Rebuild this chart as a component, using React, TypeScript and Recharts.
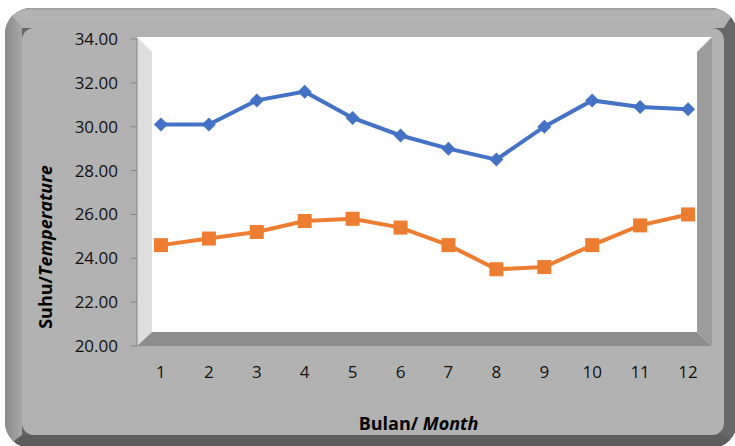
import React from 'react';
import { LineChart, Line, XAxis, YAxis } from 'recharts';

const months = ['1', '2', '3', '4', '5', '6', '7', '8', '9', '10', '11', '12'];
const suhuMaks = [30.1, 30.1, 31.2, 31.6, 30.4, 29.6, 29.0, 28.5, 30.0, 31.2, 30.9, 30.8];
const suhuMin = [24.6, 24.9, 25.2, 25.7, 25.8, 25.4, 24.6, 23.5, 23.6, 24.6, 25.5, 26.0];
const yTicks = [20, 22, 24, 26, 28, 30, 32, 34];
const bandTicks = [0, 1, 2, 3, 4, 5, 6, 7, 8, 9, 10, 11, 12];

const data = months.map((m, i) => ({ month: m, maks: suhuMaks[i], min: suhuMin[i], idx: i + 0.5 }));

const W = 735;
const H = 446;
const M = { top: 39, right: 23, bottom: 40, left: 0 };
const YW = 137;
const FONT = '"Open Sans", sans-serif';
const AXIS = '#858585';

const PL = M.left + YW;
const PR = W - M.right;
const PT = M.top;
const PB = H - M.bottom - 60;
const D = 15;

const Diamond = (p: any) => {
  const { cx, cy } = p;
  if (cx == null || cy == null) return null;
  const r = 7;
  return <polygon key={`d${p.index}`} points={`${cx},${cy - r} ${cx + r},${cy} ${cx},${cy + r} ${cx - r},${cy}`} fill="#4472C4" />;
};

const Square = (p: any) => {
  const { cx, cy } = p;
  if (cx == null || cy == null) return null;
  const s = 14;
  return <rect key={`s${p.index}`} x={cx - s / 2} y={cy - s / 2} width={s} height={s} fill="#ED7D31" />;
};

const YLabel = (props: any) => {
  const vb = props.viewBox || { x: 0, y: 0, width: 0, height: 0 };
  const x = vb.x + 52;
  const y = 247;
  return (
    <text transform={`translate(${x},${y}) rotate(-90)`} textAnchor="middle" fontFamily={FONT} fontSize={18} fontWeight="bold" fill="#000">
      <tspan>Suhu/</tspan>
      <tspan fontStyle="italic">Temperature</tspan>
    </text>
  );
};

const XLabel = (props: any) => {
  const vb = props.viewBox || { x: 0, y: 0, width: 0, height: 0 };
  return (
    <text x={vb.x + vb.width / 2 - 6} y={vb.y + 84} textAnchor="middle" fontFamily={FONT} fontSize={18} fontWeight="bold" fill="#000">
      <tspan>Bulan/ </tspan>
      <tspan fontStyle="italic">Month</tspan>
    </text>
  );
};

const Background = () => (
  <svg width={W} height={H} style={{ position: 'absolute', left: 0, top: 0 }}>
    <defs>
      <clipPath id="outerClip">
        <rect x={5} y={8} width={732} height={440} rx={26} />
      </clipPath>
      <linearGradient id="leftBand" x1="0" y1="0" x2="1" y2="0">
        <stop offset="0" stopColor="#8a8a8a" />
        <stop offset="1" stopColor="#a8a8a8" />
      </linearGradient>
      <linearGradient id="topBand" x1="0" y1="0" x2="0" y2="1">
        <stop offset="0" stopColor="#9a9a9a" />
        <stop offset="0.15" stopColor="#b4b4b4" />
        <stop offset="1" stopColor="#b0b0b0" />
      </linearGradient>
    </defs>
    <g clipPath="url(#outerClip)">
      <rect x={0} y={0} width={W} height={H} fill="#666666" />
      <polygon points={`5,8 737,8 724,28 22,28`} fill="url(#topBand)" />
      <polygon points={`5,8 22,28 22,435 5,448`} fill="url(#leftBand)" />
      <polygon points={`737,8 737,448 724,435 724,28`} fill="#676767" />
      <polygon points={`5,448 737,448 724,435 22,435`} fill="#5d5d5d" />
    </g>
    <rect x={22} y={28} width={702} height={407} rx={12} fill="#b2b2b2" />
    <rect x={PL} y={PT - 2} width={PR - PL} height={PB - PT + 2} fill="#ffffff" />
    <polygon points={`${PL},${PT - 2} ${PL + D},${PT - 2 + D} ${PL + D},${PB - 14} ${PL},${PB}`} fill="#dedede" />
    <polygon points={`${PR},${PT - 2} ${PR - D},${PT - 2 + D} ${PR - D},${PB - 14} ${PR},${PB}`} fill="#9c9c9c" />
    <polygon points={`${PL},${PB} ${PL + D},${PB - 14} ${PR - D},${PB - 14} ${PR},${PB}`} fill="#8d8d8d" />
  </svg>
);

export default function App() {
  return (
    <div style={{ position: 'absolute', left: 0, top: 0, width: W, height: H }}>
      <Background />
      <div style={{ position: 'absolute', left: 0, top: 0 }}>
        <LineChart width={W} height={H} data={data} margin={M}>
          <XAxis
            xAxisId="band"
            type="number"
            dataKey="idx"
            domain={[0, 12]}
            ticks={bandTicks}
            allowDataOverflow
            height={0}
            tick={false}
            tickSize={6}
            tickLine={{ stroke: AXIS }}
            axisLine={{ stroke: AXIS }}
          />
          <XAxis
            dataKey="month"
            scale="band"
            height={60}
            axisLine={false}
            tickLine={false}
            tickSize={6}
            tickMargin={14}
            interval={0}
            tick={{ fontFamily: FONT, fontSize: 17, fill: '#111' }}
            label={<XLabel />}
          />
          <YAxis
            width={YW}
            domain={[20, 34]}
            ticks={yTicks}
            allowDataOverflow
            tickFormatter={(v: number) => v.toFixed(2)}
            tickSize={6}
            tickMargin={13}
            tickLine={{ stroke: AXIS }}
            axisLine={{ stroke: AXIS }}
            tick={{ fontFamily: FONT, fontSize: 17, fill: '#111' }}
            label={<YLabel />}
          />
          <Line dataKey="maks" stroke="#4472C4" strokeWidth={4} dot={Diamond} activeDot={false} isAnimationActive={false} />
          <Line dataKey="min" stroke="#ED7D31" strokeWidth={4} dot={Square} activeDot={false} isAnimationActive={false} />
        </LineChart>
      </div>
    </div>
  );
}
